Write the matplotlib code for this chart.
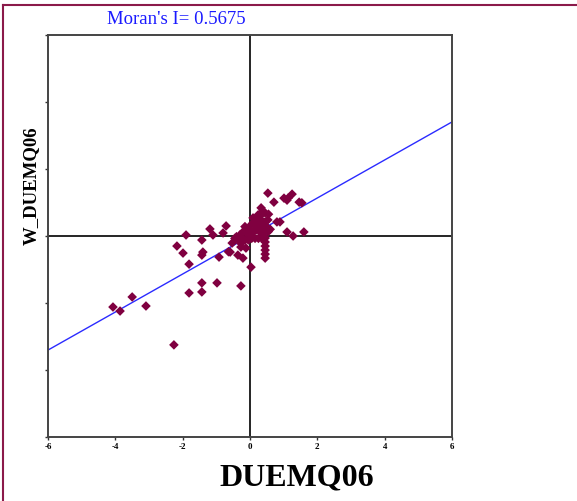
import numpy as np
import matplotlib
matplotlib.use('Agg')
import matplotlib.pyplot as plt
from matplotlib.lines import Line2D

MORAN_I = 0.5675
X_LABEL = 'DUEMQ06'
Y_LABEL = 'W_DUEMQ06'
TICKS = [-6, -4, -2, 0, 2, 4, 6]

# standardised values (x) and their spatial lags (y)
x_vals = [-4.07, -3.86, -3.50, -3.09, -2.26, -1.81, -1.43, -1.43, -0.98, -0.27,
          -1.90, -2.17, -1.43, -1.19, -1.10, -0.80, -0.71, -1.99, -1.40, -1.43,
          -1.81, -0.92, -0.59, -0.53, -0.36, -0.21, 0.03, -0.27, -0.12,
          0.53, 1.01, 1.13, 1.25, 1.10, 0.71, 1.46, 1.54, 0.33, 0.36,
          0.45, 0.24, 0.24, 0.36, 0.45, 0.53, 0.50, 0.09, 0.15, 0.80,
          0.89, 1.10, 1.28, 1.60,
          0.45, 0.45, 0.45, 0.45, 0.45, 0.45,
          0.05, -0.05, -0.15, -0.20, -0.10, 0.00, 0.10, 0.20, 0.30, 0.40,
          -0.30, -0.40, -0.25, -0.35, -0.27, -0.15, -0.05, 0.05, 0.15, 0.25,
          0.35, 0.54, 0.25, 0.45, -0.45, -0.64,
          0.30, 0.40, 0.55, 0.20, 0.10, 0.60, 0.35]
y_vals = [-2.12, -2.24, -1.82, -2.09, -3.25, -1.70, -1.67, -1.40, -1.40, -1.49,
          0.03, -0.30, -0.12, 0.21, 0.03, 0.09, 0.30, -0.51, -0.48, -0.57,
          -0.84, -0.63, -0.48, -0.21, -0.57, -0.66, -0.93, -0.33, -0.36,
          1.28, 1.13, 1.13, 1.25, 1.07, 1.01, 1.01, 0.99, 0.84, 0.72,
          0.69, 0.63, 0.54, 0.45, 0.42, 0.48, 0.27, 0.54, 0.33, 0.42,
          0.42, 0.12, 0.00, 0.12,
          -0.06, -0.18, -0.30, -0.42, -0.54, -0.66,
          0.35, 0.23, 0.28, 0.13, 0.08, 0.08, 0.13, 0.18, 0.13, 0.08,
          0.03, -0.02, -0.07, -0.12, -0.22, -0.12, -0.12, -0.07, -0.07, -0.07,
          -0.07, 0.13, 0.33, 0.23, -0.07, -0.47,
          0.60, 0.35, 0.65, 0.45, 0.40, 0.20, 0.25]

fig = plt.figure(figsize=(5.77, 5.01), dpi=100)
fig.patch.set_facecolor('white')
ax = fig.add_axes([48 / 577, 64 / 501, 404 / 577, 402 / 501])

ax.axhline(0, color='black', lw=1.2, zorder=1)
ax.axvline(0, color='black', lw=1.2, zorder=1)

line_x = np.array([-6, 6])
ax.plot(line_x, MORAN_I * line_x, color='#2b2bff', lw=1.0, zorder=2)

ax.scatter(x_vals, y_vals, marker='D', s=24, color='#800040',
           edgecolors='none', zorder=3)

ax.set_xlim(-6, 6)
ax.set_ylim(-6, 6)
ax.set_xticks(TICKS)
ax.set_xticklabels([str(t) for t in TICKS], fontfamily='Liberation Serif',
                   fontweight='bold', fontsize=6.5)
ax.set_yticks(TICKS)
ax.set_yticklabels([])
ax.tick_params(length=2, width=1, color='#333333', pad=2)
for s in ax.spines.values():
    s.set_color('#444444')
    s.set_linewidth(1.4)

fig.text(176 / 577, 1 - 20 / 501, f"Moran's I= {MORAN_I}", color='#1a1aff',
         fontfamily='Liberation Serif', fontsize=13.5, ha='center', va='center')
fig.text(297 / 577, 1 - 478 / 501, X_LABEL, fontfamily='Liberation Serif',
         fontweight='bold', fontsize=23, ha='center', va='center')
fig.text(31 / 577, 1 - 186 / 501, Y_LABEL, fontfamily='Liberation Serif',
         fontweight='bold', fontsize=13.5, ha='center', va='center', rotation=90)

# maroon frame lines at top and left
fig.add_artist(Line2D([3 / 577, 1], [1 - 5 / 501, 1 - 5 / 501],
                      color='#8b1a4a', lw=1.5, transform=fig.transFigure))
fig.add_artist(Line2D([3 / 577, 3 / 577], [0, 1 - 5 / 501],
                      color='#8b1a4a', lw=1.5, transform=fig.transFigure))

fig.savefig('out.png', dpi=100)
